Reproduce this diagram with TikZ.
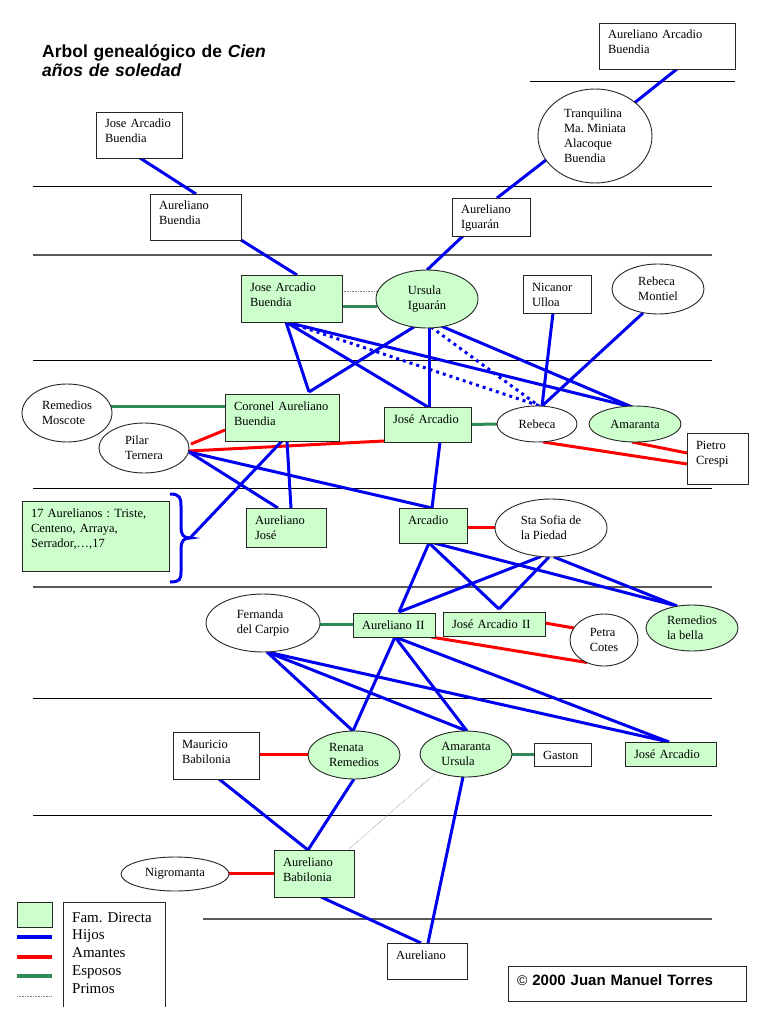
\documentclass[tikz,border=0pt]{standalone}
\usepackage{fontspec}
\setmainfont{Liberation Serif}
\newfontfamily\arialf{Liberation Sans}
\usetikzlibrary{shapes.geometric,backgrounds}
\definecolor{famgreen}{RGB}{204,255,204}
\definecolor{espgreen}{RGB}{46,139,87}
\definecolor{hijoblue}{RGB}{0,0,240}
\newcommand\nodefnt{\fontsize{12.5}{15}\selectfont}
\frenchspacing
\begin{document}
\begin{tikzpicture}[x=1pt,y=-1pt,
 rbox/.style 2 args={rectangle, draw=black!85, line width=0.9pt, fill=white, inner xsep=9pt, inner ysep=0pt, text width=#1pt, text height=16pt, text depth=#2pt, align=left, font=\nodefnt},
 gbox/.style 2 args={rbox={#1}{#2}, fill=famgreen},
 ell/.style 2 args={ellipse, draw=black!85, line width=0.9pt, fill=white, inner sep=0pt, minimum width=#1pt, minimum height=#2pt, align=left, font=\nodefnt},
 gell/.style 2 args={ell={#1}{#2}, fill=famgreen},
 hijo/.style={draw=hijoblue, line width=3pt},
 hijodot/.style={draw=hijoblue, line width=3pt, dash pattern=on 3pt off 4pt},
 amante/.style={draw=red, line width=3pt},
 esposo/.style={draw=espgreen, line width=3pt},
 primo/.style={draw=gray, line width=0.6pt, densely dotted},
 sep/.style={draw=black, line width=0.8pt},
 sepg/.style={draw=black!65, line width=1.3pt},
]
\useasboundingbox (0,0) rectangle (768,1024);

% title
\node[anchor=north west, inner sep=0pt, text width=320pt, text height=13pt, align=left,
      font=\arialf\bfseries\fontsize{17.5}{19.5}\selectfont] (title) at (42,44)
      {Arbol genealógico de \textit{Cien}\\\textit{años de soledad}};

% nodes
\node[rbox={68}{30}] (jab0) at (139,135) {Jose Arcadio\\Buendia};
\node[rbox={73}{30}] (ab) at (195.5,217) {Aureliano\\Buendia};
\node[rbox={118}{30}] (aab) at (667,46) {Aureliano Arcadio\\Buendia};
\node[ell={114}{94}] (tranq) at (595,136) {Tranquilina\\Ma. Miniata\\Alacoque\\Buendia};
\node[rbox={60}{22}] (ai) at (491,217) {Aureliano\\Iguarán};
\node[gbox={83}{31}] (jab) at (291.5,298.5) {Jose Arcadio\\Buendia};
\node[gell={102}{58}] (urs) at (427,299) {Ursula\\Iguarán};
\node[rbox={50}{22}] (nic) at (557,294) {Nicanor\\Ulloa};
\node[ell={92}{50}] (rmont) at (658,289) {Rebeca\\Montiel};
\node[ell={90}{58}] (rmos) at (67,413) {Remedios\\Moscote};
\node[gbox={96}{31}] (cab) at (282,417.5) {Coronel Aureliano\\Buendia};
\node[ell={90}{50}] (pilar) at (144,448) {Pilar\\Ternera};
\node[gbox={69}{19}] (ja) at (427.5,424.5) {José Arcadio};
\node[ell={80}{36}] (reb) at (537,424) {Rebeca};
\node[gell={92}{36}] (ama) at (635,424) {Amaranta};
\node[rbox={43}{35}] (pie) at (717.5,458.5) {Pietro\\Crespi};
\node[gbox={129}{54}] (a17) at (95.5,536) {17 Aurelianos : Triste,\\Centeno, Arraya,\\Serrador,…,17};
\node[gbox={62}{23}] (aj) at (286,527.5) {Aureliano\\José};
\node[gbox={50}{19}] (arc) at (433,525.5) {Arcadio};
\node[ell={112}{58}] (sofia) at (551,528) {Sta Sofia de\\la Piedad};
\node[ell={114}{58}] (fer) at (263,623) {Fernanda\\del Carpio};
\node[gbox={64}{8}] (a2) at (394,625) {Aureliano II};
\node[gbox={84}{8}] (ja2) at (494,624) {José Arcadio II};
\node[ell={68}{52}] (petra) at (604,640) {Petra\\Cotes};
\node[gell={92}{46}] (rbel) at (692,628) {Remedios\\la bella};
\node[rbox={68}{31}] (mau) at (216,755.5) {Mauricio\\Babilonia};
\node[gell={92}{48}] (ren) at (354,755) {Renata\\Remedios};
\node[gell={92}{46}] (au) at (466,754) {Amaranta\\Ursula};
\node[rbox={39}{7}] (gas) at (562.5,754.5) {Gaston};
\node[gbox={73}{8}] (ja3) at (670.5,754) {José Arcadio};
\node[ell={108}{34}] (nig) at (175,874) {Nigromanta};
\node[gbox={62}{31}] (abab) at (314,873.5) {Aureliano\\Babilonia};
\node[rbox={62}{20}] (aur) at (427,961) {Aureliano};

% copyright
\node[draw=black!85, line width=0.9pt, fill=white, inner xsep=9pt, inner ysep=0pt, text width=220pt,
      text height=19pt, text depth=16pt, align=left,
      font=\arialf\bfseries\fontsize{15}{18}\selectfont] (copy) at (627,983.5)
      {{\mdseries\fontsize{14}{18}\selectfont ©} 2000 Juan Manuel Torres};

% legend
\node[draw=black!85, line width=0.9pt, fill=famgreen, minimum width=35pt, minimum height=25pt, inner sep=0pt] (legsq) at (34.5,914.5) {};
\node[anchor=north west, inner sep=0pt, text width=90pt, text height=11pt, align=left,
      font=\fontsize{15}{17.7}\selectfont] (legtext) at (72,911)
      {Fam. Directa\\Hijos\\Amantes\\Esposos\\Primos};
\draw[hijo, line width=3.5pt] (17,937) -- (52,937);
\draw[amante, line width=3.5pt] (17,957) -- (52,957);
\draw[esposo, line width=3.5pt] (17,976) -- (52,976);
\draw[primo] (17,996) -- (52,996);
\draw[line width=0.9pt, black!85] (63,1007) -- (63,902) -- (165,902) -- (165,1007);

% brace
\coordinate (bt) at (190,538);
\draw[hijo] (170,494) .. controls (180,494) and (181,498) .. (181,506) -- (181,528)
  .. controls (181,535) and (184,538) .. (bt)
  .. controls (184,538) and (181,541) .. (181,548) -- (181,572)
  .. controls (181,579) and (180,582) .. (170,582);

\begin{scope}[on background layer]
\fill[white] (0,0) rectangle (768,1024);
% separators
\draw[sep] (530,81) -- (735,81);
\draw[sep] (33,186) -- (712,186);
\draw[sepg] (33,255) -- (712,255);
\draw[sep] (33,360) -- (712,360);
\draw[sep] (33,488) -- (712,488);
\draw[sepg] (33,587) -- (712,587);
\draw[sep] (33,698) -- (712,698);
\draw[sep] (33,815) -- (712,815);
\draw[sepg] (203,919) -- (712,919);

% top generations
\draw[hijo] ([shift={(1,23)}]jab0.center) -- ([shift={(0.5,-23)}]ab.center);
\draw[hijo] ([shift={(45.5,23)}]ab.center) -- ([shift={(5.5,-23.5)}]jab.center);
\draw[hijo] ([shift={(10,23)}]aab.center) -- ([shift={(38,-32)}]tranq.center);
\draw[hijo] ([shift={(-49,24)}]tranq.center) -- ([shift={(6,-19)}]ai.center);
\draw[hijo] ([shift={(-28,19)}]ai.center) -- ([shift={(0,-29)}]urs.center);

\draw[esposo] ([shift={(50.5,7.5)}]jab.center) -- ([shift={(-50,7)}]urs.center);
\draw[primo] ([shift={(50.5,-7.5)}]jab.center) -- ([shift={(-49,-8)}]urs.center);

% children of JAB and Ursula
\draw[hijo] ([shift={(-5.5,23.5)}]jab.center) -- ([shift={(27,-25.5)}]cab.center);
\draw[hijo] ([shift={(-10,26)}]urs.center) -- ([shift={(27,-25.5)}]cab.center);
\draw[hijo] ([shift={(-5.5,23.5)}]jab.center) -- ([shift={(0.5,-17.5)}]ja.center);
\draw[hijo] ([shift={(2,27)}]urs.center) -- ([shift={(1.5,-17.5)}]ja.center);
\draw[hijo] ([shift={(-5.5,23.5)}]jab.center) -- ([shift={(-3,-17)}]ama.center);
\draw[hijo] ([shift={(14,27)}]urs.center) -- ([shift={(-3,-17)}]ama.center);
\draw[hijodot] ([shift={(-1.5,24.5)}]jab.center) -- ([shift={(3,-18)}]reb.center);
\draw[hijodot] ([shift={(4,28)}]urs.center) -- ([shift={(2,-18)}]reb.center);
\draw[hijo] ([shift={(-4,19)}]nic.center) -- ([shift={(5,-18)}]reb.center);
\draw[hijo] ([shift={(-15,24)}]rmont.center) -- ([shift={(5,-18)}]reb.center);

\draw[esposo] ([shift={(44,-7)}]rmos.center) -- ([shift={(-57,-11.5)}]cab.center);
\draw[amante] ([shift={(47,-4)}]pilar.center) -- ([shift={(-57,12.5)}]cab.center);
\draw[amante] ([shift={(45,3)}]pilar.center) -- ([shift={(-43.5,16.5)}]ja.center);
\draw[esposo] ([shift={(43.5,0)}]ja.center) -- ([shift={(-40,0)}]reb.center);
\draw[amante] ([shift={(6,18)}]reb.center) -- ([shift={(-30.5,5.5)}]pie.center);
\draw[amante] ([shift={(-3,18)}]ama.center) -- ([shift={(-30.5,-5.5)}]pie.center);

% next generation
\draw[hijo] (bt) -- ([shift={(0,23.5)}]cab.center);
\draw[hijo] ([shift={(5,23.5)}]cab.center) -- ([shift={(5,-19.5)}]aj.center);
\draw[hijo] ([shift={(45,4)}]pilar.center) -- ([shift={(-8,-19.5)}]aj.center);
\draw[hijo] ([shift={(45,4)}]pilar.center) -- ([shift={(-1,-17.5)}]arc.center);
\draw[hijo] ([shift={(12.5,17.5)}]ja.center) -- ([shift={(-1,-17.5)}]arc.center);
\draw[amante] ([shift={(34,1.5)}]arc.center) -- ([shift={(-56,-1)}]sofia.center);

\draw[hijo] ([shift={(-4,17.5)}]arc.center) -- ([shift={(5,-13)}]a2.center);
\draw[hijo] ([shift={(-10,28.5)}]sofia.center) -- ([shift={(5,-13)}]a2.center);
\draw[hijo] ([shift={(-4,17.5)}]arc.center) -- ([shift={(5,-15)}]ja2.center);
\draw[hijo] ([shift={(-2,29)}]sofia.center) -- ([shift={(5,-15)}]ja2.center);
\draw[hijo] ([shift={(1,17.5)}]arc.center) -- ([shift={(-15,-22)}]rbel.center);
\draw[hijo] ([shift={(3,29)}]sofia.center) -- ([shift={(-15,-22)}]rbel.center);
\draw[esposo] ([shift={(57,1)}]fer.center) -- ([shift={(-41,-1)}]a2.center);
\draw[amante] ([shift={(37,12)}]a2.center) -- ([shift={(-17,22.5)}]petra.center);
\draw[amante] ([shift={(51,-1)}]ja2.center) -- ([shift={(-30,-12)}]petra.center);

\draw[hijo] ([shift={(4,29)}]fer.center) -- ([shift={(-1,-24)}]ren.center);
\draw[hijo] ([shift={(4,29)}]fer.center) -- ([shift={(1,-23)}]au.center);
\draw[hijo] ([shift={(4,29)}]fer.center) -- ([shift={(-1.5,-12)}]ja3.center);
\draw[hijo] ([shift={(1,12)}]a2.center) -- ([shift={(-1,-24)}]ren.center);
\draw[hijo] ([shift={(1,12)}]a2.center) -- ([shift={(1,-23)}]au.center);
\draw[hijo] ([shift={(1,12)}]a2.center) -- ([shift={(-1.5,-12)}]ja3.center);
\draw[amante] ([shift={(43,-1.5)}]mau.center) -- ([shift={(-46,-1)}]ren.center);
\draw[esposo] ([shift={(46,0)}]au.center) -- ([shift={(-28.5,-0.5)}]gas.center);

\draw[hijo] ([shift={(3,23.5)}]mau.center) -- ([shift={(-6,-23.5)}]abab.center);
\draw[hijo] ([shift={(0,24)}]ren.center) -- ([shift={(-6,-23.5)}]abab.center);
\draw[amante] ([shift={(54,-1)}]nig.center) -- ([shift={(-40,-0.5)}]abab.center);
\draw[primo] ([shift={(35,-24.5)}]abab.center) -- ([shift={(-29,18)}]au.center);

\draw[hijo] ([shift={(7,23.5)}]abab.center) -- ([shift={(-6,-18)}]aur.center);
\draw[hijo] ([shift={(-3,23)}]au.center) -- ([shift={(1,-18)}]aur.center);
\end{scope}
\end{tikzpicture}
\end{document}
